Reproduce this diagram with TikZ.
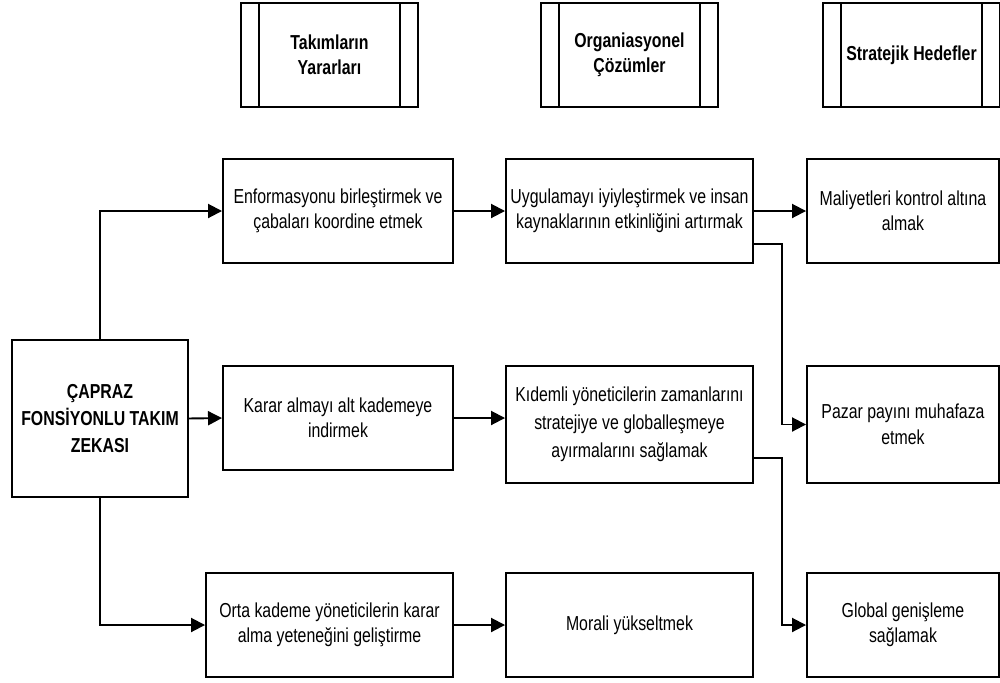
\documentclass[tikz,border=0pt]{standalone}
\usepackage{fontspec}
\setmainfont{Liberation Sans}[FakeStretch=0.785]
\usetikzlibrary{arrows.meta}

\begin{document}
\begin{tikzpicture}[x=0.2mm, y=-0.2mm,
		box/.style={draw, line width=1.1pt, align=center, inner sep=0pt, minimum height=20.8mm, font=\fontsize{11.5}{14.5}\selectfont},
		head/.style={box, minimum width=35.4mm, font=\bfseries\fontsize{11.5}{14.5}\selectfont,
			path picture={\draw[line width=1.1pt] ([xshift=3.6mm]path picture bounding box.north west) -- ([xshift=3.6mm]path picture bounding box.south west);
				\draw[line width=1.1pt] ([xshift=-3.6mm]path picture bounding box.north east) -- ([xshift=-3.6mm]path picture bounding box.south east);}},
		arr/.style={-{Triangle[length=2.8mm,width=2.8mm]}, line width=1.1pt}]
	\useasboundingbox (0,0) rectangle (1000,682);
	\node[head] (h1) at (329.5,55) {Takımların\\Yararları};
	\node[head] (h2) at (629.5,55) {Organiasyonel\\Çözümler};
	\node[head] (h3) at (911.5,55) {Stratejik Hedefler};
	\node[box, minimum width=46mm] (enf) at (338,211) {Enformasyonu birleştirmek ve\\çabaları koordine etmek};
	\node[box, minimum width=49.4mm] (uyg) at (629.5,211) {Uygulamayı iyiyleştirmek ve insan\\kaynaklarının etkinliğini artırmak};
	\node[box, minimum width=38.4mm] (mal) at (903,211) {Maliyetleri kontrol altına\\almak};
	\node[box, minimum width=35.2mm, minimum height=31.4mm, font=\bfseries\fontsize{11.5}{15.5}\selectfont] (zek) at (100,418.5) {ÇAPRAZ\\FONSİYONLU TAKIM\\ZEKASI};
	\node[box, minimum width=46mm] (kar) at (338,418) {Karar almayı alt kademeye\\indirmek};
	\node[box, minimum width=49.4mm, minimum height=23.4mm, font=\fontsize{11.5}{16}\selectfont] (kid) at (629.5,424.5) {Kıdemli yöneticilerin zamanlarını\\stratejiye ve globalleşmeye\\ayırmalarını sağlamak};
	\node[box, minimum width=38.4mm, minimum height=23.4mm] (paz) at (903,424.5) {Pazar payını muhafaza\\etmek};
	\node[box, minimum width=49.4mm] (ort) at (329.5,625) {Orta kademe yöneticilerin karar\\alma yeteneğini geliştirme};
	\node[box, minimum width=49.4mm] (mor) at (629.5,625) {Morali yükseltmek};
	\node[box, minimum width=38.4mm] (glb) at (903,625) {Global genişleme\\sağlamak};
	\draw[arr] (zek.north) |- (enf.west);
	\draw[arr] (zek.east) -- (kar.west);
	\draw[arr] (zek.south) |- (ort.west);
	\draw[arr] (enf.east) -- (uyg.west);
	\draw[arr] (kar.east) -- (kar.east -| kid.west);
	\draw[arr] (ort.east) -- (mor.west);
	\draw[arr] (uyg.east) -- (mal.west);
	\draw[arr] ([yshift=-6.6mm]uyg.east) -- ++(5.6mm,0) |- (paz.west);
	\draw[arr] ([yshift=-6.7mm]kid.east) -- ++(5.6mm,0) |- (glb.west);
\end{tikzpicture}
\end{document}
